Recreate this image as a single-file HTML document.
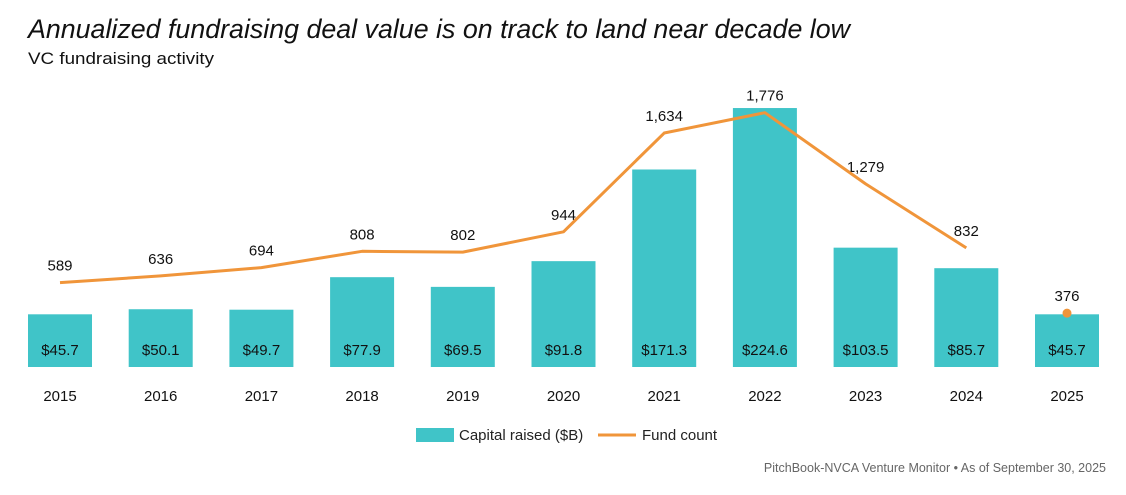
<!DOCTYPE html>
<html><head><meta charset="utf-8"><style>
body{margin:0;background:#fff;}
svg text{font-family:"Liberation Sans",sans-serif;}
</style></head><body>
<svg id="chart" width="1126" height="490" viewBox="0 0 1126 490" xmlns="http://www.w3.org/2000/svg">
<text x="28" y="38" font-size="27" font-style="italic" fill="#111" textLength="822" lengthAdjust="spacingAndGlyphs">Annualized fundraising deal value is on track to land near decade low</text>
<text x="28" y="64" font-size="17" fill="#111" textLength="186" lengthAdjust="spacingAndGlyphs">VC fundraising activity</text>
<g id="bars"></g>
<g id="line"></g>
<g id="xaxis"></g>
<g>
<rect x="416" y="428" width="38" height="14" fill="#40c4c8"/>
<text x="459" y="440" font-size="15" fill="#222">Capital raised ($B)</text>
<line x1="598" y1="435" x2="636" y2="435" stroke="#f0953a" stroke-width="3"/>
<text x="642" y="440" font-size="15" fill="#222">Fund count</text>
</g>
<text x="1106" y="472" font-size="12.5" fill="#666" text-anchor="end">PitchBook-NVCA Venture Monitor  •  As of September 30, 2025</text>
</svg>
<script>
const years=["2015","2016","2017","2018","2019","2020","2021","2022","2023","2024","2025"];
const capital=[45.7,50.1,49.7,77.9,69.5,91.8,171.3,224.6,103.5,85.7,45.7];
const capitalLabels=["$45.7","$50.1","$49.7","$77.9","$69.5","$91.8","$171.3","$224.6","$103.5","$85.7","$45.7"];
const fundCount=[589,636,694,808,802,944,1634,1776,1279,832,376];
const fundLabels=["589","636","694","808","802","944","1,634","1,776","1,279","832","376"];
const NS="http://www.w3.org/2000/svg";
const base=367;
function xPos(i){return 60+i*100.7;}
function yBar(v){return base-v*1.153;}
function yLine(v){return base-v*0.1432;}
function mk(tag,attrs,parent,txt){const e=document.createElementNS(NS,tag);for(const k in attrs)e.setAttribute(k,attrs[k]);if(txt!==undefined)e.textContent=txt;parent.appendChild(e);return e;}
const gb=document.getElementById('bars'),gl=document.getElementById('line'),gx=document.getElementById('xaxis');
years.forEach((y,i)=>{
  const r=mk('rect',{x:xPos(i)-32,y:yBar(capital[i]),width:64,height:base-yBar(capital[i]),fill:'#40c4c8'},gb);
  
  
  const t=mk('text',{x:xPos(i),y:355,'font-size':15,'text-anchor':'middle',fill:'#111'},gb,capitalLabels[i]);
  
  
  const xl=mk('text',{x:xPos(i),y:401,'font-size':15,'text-anchor':'middle',fill:'#111'},gx,y);
  
  
  const fl=mk('text',{x:xPos(i),y:yLine(fundCount[i])-12,'font-size':15,'text-anchor':'middle',fill:'#111'},gl,fundLabels[i]);
  
  
});
let d='';
for(let i=0;i<years.length-1;i++){d+=(i?'L':'M')+xPos(i)+' '+yLine(fundCount[i]);}
const p=mk('path',{d:d,fill:'none',stroke:'#f0953a','stroke-width':3,'stroke-linejoin':'round'},gl);


const last=years.length-1;
const c=mk('circle',{cx:xPos(last),cy:yLine(fundCount[last]),r:4.5,fill:'#f0953a'},gl);


</script>
</body></html>
